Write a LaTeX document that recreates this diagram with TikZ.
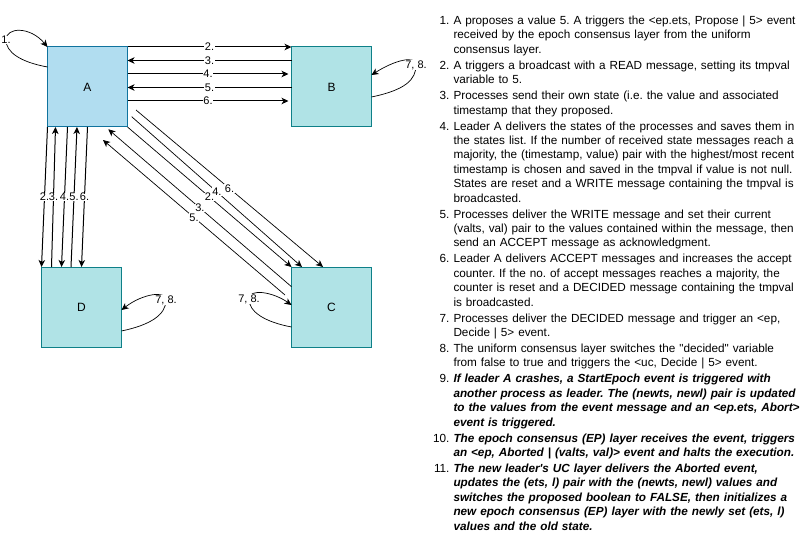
\documentclass[tikz,border=0pt]{standalone}
\usepackage{fontspec}
\setmainfont{Liberation Sans}[Ligatures=TeXOff]
\usetikzlibrary{arrows.meta,calc}
\definecolor{afill}{HTML}{B1DDF0}
\definecolor{adraw}{HTML}{10739E}
\definecolor{bfill}{HTML}{B0E3E6}
\definecolor{bdraw}{HTML}{0E8088}
\tikzset{
  proc/.style={draw=bdraw, fill=bfill, line width=1pt, minimum width=80pt, minimum height=80pt,
    inner sep=0pt, outer sep=0pt, font=\fontsize{12}{14}\selectfont},
  leader/.style={proc, draw=adraw, fill=afill},
  arr/.style={line width=1pt, -{Stealth[length=7pt,width=6.5pt,inset=2pt]}},
  darr/.style={line width=0.7pt, -{Stealth[length=7pt,width=6.5pt,inset=2pt]}},
  lab/.style={fill=white, inner sep=0.6pt, font=\fontsize{11}{12}\selectfont},
}
\begin{document}
\frenchspacing
\begin{tikzpicture}[x=1pt,y=-1pt]
\useasboundingbox (0,0) rectangle (802,545);

\node[leader] (A) at (87.5,87) {A};
\node[proc] (B) at (331.5,87) {B};
\node[proc] (D) at (81.5,307) {D};
\node[proc] (C) at (331.5,307) {C};

% A <-> B
\draw[arr] (A.north east) -- node[lab]{2.} (B.north west);
\draw[arr] ($(B.north west)+(0,13.5)$) -- node[lab]{3.} ($(A.north east)+(0,13.5)$);
\draw[arr] ($(A.north east)+(0,27)$) -- node[lab]{4.} ($(B.north west)+(-3,27)$);
\draw[arr] ($(B.north west)+(0,40.5)$) -- node[lab]{5.} ($(A.north east)+(0,40.5)$);
\draw[arr] ($(A.north east)+(0,54)$) -- node[lab]{6.} ($(B.north west)+(-3,54)$);

% A <-> D
\draw[arr] (A.south west) -- node[lab]{2.} (D.north west);
\draw[arr] ($(D.north west)+(10,0)$) -- node[lab]{3.} ($(A.south west)+(8,0)$);
\draw[arr] ($(A.south west)+(20,0)$) -- node[lab]{4.} ($(D.north west)+(20,0)$);
\draw[arr] ($(D.north west)+(29.5,0)$) -- node[lab]{5.} ($(A.south west)+(29.5,0)$);
\draw[arr] ($(A.south west)+(40,0)$) -- node[lab]{6.} ($(D.north west)+(40,0)$);

% A <-> C
\draw[darr] (A.south east) -- node[lab]{2.} (C.north west);
\draw[darr] ($(A.south east)+(4.2,-10.3)$) -- node[lab]{4.} ($(C.north west)+(10.5,0)$);
\draw[darr] ($(A.south east)+(8.5,-17)$) -- node[lab]{6.} ($(C.north west)+(31.5,0)$);
\draw[darr] ($(C.north west)+(0,19.7)$) -- node[lab]{3.} ($(A.south east)+(-19.2,2.3)$);
\draw[darr] ($(C.north west)+(-6.5,28)$) -- node[lab]{5.} ($(A.south east)+(-24.5,13)$);

% self loops
\draw[darr] ($(A.north west)+(0,20)$) .. controls (20,62) and (6,52) .. (6,40) node[lab]{1.}
  .. controls (6,27) and (30,26) .. (A.north west);
\draw[darr] ($(B.north east)+(0,50)$) .. controls (405,90) and (416,80) .. (416,65) node[lab]{7, 8.}
  .. controls (416,55) and (395,60) .. ($(B.north east)+(0,28)$);
\draw[darr] ($(D.north east)+(0,64)$) .. controls (150,325) and (166,315) .. (166,300) node[lab]{7, 8.}
  .. controls (166,290) and (142,294) .. ($(D.north east)+(0,43)$);
\draw[darr] ($(C.north west)+(0,60)$) .. controls (265,322) and (249,312) .. (249,299) node[lab]{7, 8.}
  .. controls (249,288) and (273,292) .. ($(C.north west)+(0,38)$);

% description list
\node[anchor=north west, inner sep=0pt, text width=390pt, align=left,
      font=\fontsize{11.75}{14.4}\selectfont] (list) at (425.3,10) {%
\begin{list}{}{\setlength\leftmargin{28pt}\setlength\labelwidth{24pt}\setlength\labelsep{4pt}%
  \setlength\itemsep{1.6pt}\setlength\parsep{0pt}\setlength\topsep{0pt}\setlength\partopsep{0pt}}
\item[1.] A proposes a value 5. A triggers the <ep.ets, Propose | 5> event\newline
received by the epoch consensus layer from the uniform\newline
consensus layer.
\item[2.] A triggers a broadcast with a READ message, setting its tmpval\newline
variable to 5.
\item[3.] Processes send their own state (i.e. the value and associated\newline
timestamp that they proposed.
\item[4.] Leader A delivers the states of the processes and saves them in\newline
the states list. If the number of received state messages reach a\newline
majority, the (timestamp, value) pair with the highest/most recent\newline
timestamp is chosen and saved in the tmpval if value is not null.\newline
States are reset and a WRITE message containing the tmpval is\newline
broadcasted.
\item[5.] Processes deliver the WRITE message and set their current\newline
(valts, val) pair to the values contained within the message, then\newline
send an ACCEPT message as acknowledgment.
\item[6.] Leader A delivers ACCEPT messages and increases the accept\newline
counter. If the no. of accept messages reaches a majority, the\newline
counter is reset and a DECIDED message containing the tmpval\newline
is broadcasted.
\item[7.] Processes deliver the DECIDED message and trigger an <ep,\newline
Decide | 5> event.
\item[8.] The uniform consensus layer switches the "decided" variable\newline
from false to true and triggers the <uc, Decide | 5> event.
\item[9.] \textbf{\textit{If leader A crashes, a StartEpoch event is triggered with\newline
another process as leader. The (newts, newl) pair is updated\newline
to the values from the event message and an <ep.ets, Abort>\newline
event is triggered.}}
\item[10.] \textbf{\textit{The epoch consensus (EP) layer receives the event, triggers\newline
an <ep, Aborted | (valts, val)> event and halts the execution.}}
\item[11.] \textbf{\textit{The new leader's UC layer delivers the Aborted event,\newline
updates the (ets, l) pair with the (newts, newl) values and\newline
switches the proposed boolean to FALSE, then initializes a\newline
new epoch consensus (EP) layer with the newly set (ets, l)\newline
values and the old state.}}
\end{list}};
\end{tikzpicture}
\end{document}
